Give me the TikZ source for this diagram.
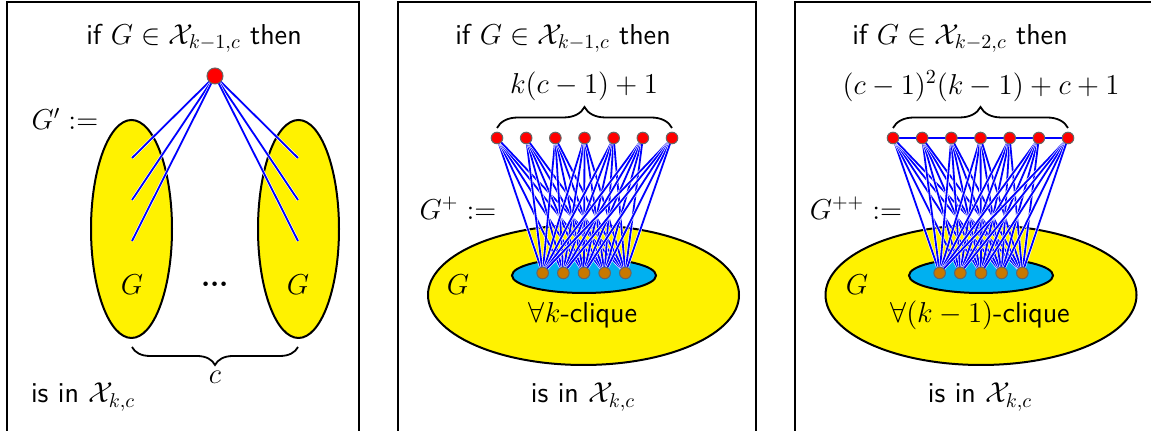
\documentclass[tikz,border=0pt]{standalone}
\usepackage{amsmath,bm}
\usepackage{tikz}
\usetikzlibrary{decorations.pathreplacing, positioning}
\definecolor{GraphYellow}{RGB}{255, 242, 0}
\definecolor{CliqueCyan}{RGB}{0, 176, 240}
\definecolor{CliqueBrown}{RGB}{200, 120, 0}
\definecolor{LinkBlue}{RGB}{0, 0, 255}
\pgfdeclarelayer{bg}
\pgfdeclarelayer{links}
\pgfsetlayers{bg,links,main}
\tikzset{
  frame/.style={draw=black, line width=0.6pt},
  graphblob/.style={draw=black, line width=1pt, fill=GraphYellow},
  cliqueblob/.style={draw=black, line width=1pt, fill=CliqueCyan},
  redvertex/.style={circle, draw=black!60, line width=0.5pt, fill=red, minimum size=5.8pt, inner sep=0pt},
  apexvertex/.style={redvertex, minimum size=8pt},
  brownvertex/.style={circle, draw=black!60, line width=0.5pt, fill=CliqueBrown, minimum size=5.8pt, inner sep=0pt},
  bluelink/.style={draw=LinkBlue, line width=0.9pt, preaction={draw=white, line width=1.5pt}},
  countbrace/.style={decorate, draw=black, line width=0.9pt},
}

\begin{document}
\begin{tikzpicture}[x=0.5pt, y=0.5pt, font=\sffamily\Large]
    \clip (0,0) rectangle (1151,431);

    % panel frames
    \draw[frame] (7,-10) rectangle (359,429);
    \draw[frame] (398,-10) rectangle (756,429);
    \draw[frame] (795,-10) rectangle (1170,429);

    % ---- panel 1: G'
    \node (t1) at (194,393) {if $G \in \mathcal{X}_{k-1,c}$ then};
    \node (n1) at (65,312) {$G' :=$};
    \begin{pgfonlayer}{bg}
      \draw[graphblob] (131.5,202) ellipse [x radius=40.5, y radius=109];
      \draw[graphblob] (298.5,202) ellipse [x radius=40.5, y radius=109];
    \end{pgfonlayer}
    \node[apexvertex] (apex) at (215,355) {};
    \foreach \y [count=\k] in {273,231,190} {
      \coordinate (l\k) at (132,\y);
      \coordinate (r\k) at (298,\y);
      \begin{pgfonlayer}{links}
        \draw[bluelink] (apex.center) -- (l\k);
        \draw[bluelink] (apex.center) -- (r\k);
      \end{pgfonlayer}
    }
    \node (gl) at (132,146) {$G$};
    \node (gr) at (298,146) {$G$};
    \node (dots) at (215,146) {$\bm{{\cdot}{\cdot}{\cdot}}$};
    \draw[countbrace, decoration={brace, amplitude=9pt}] (298,84) -- (132,84);
    \node (c1) at (215,54) {$c$};
    \node[anchor=west] (s1) at (24,34) {is in $\mathcal{X}_{k,c}$};

    % ---- panel 2: G^+
    \node (t2) at (563,393) {if $G \in \mathcal{X}_{k-1,c}$ then};
    \node (f2) at (584,345) {$k(c-1)+1$};
    \draw[countbrace, decoration={brace, amplitude=10.5pt}] (497,303) -- (672,303);
    \begin{pgfonlayer}{bg}
      \draw[graphblob] (583.5,136) ellipse [x radius=155.5, y radius=70];
      \draw[cliqueblob] (584,155.5) ellipse [x radius=72, y radius=17.5];
    \end{pgfonlayer}
    \foreach \i in {1,...,7}
      \node[redvertex] (pt\i) at ({497+29.17*(\i-1)},293) {};
    \foreach \j in {1,...,5}
      \node[brownvertex] (pb\j) at ({584+20.67*(\j-3)},158) {};
    \begin{pgfonlayer}{links}
      \foreach \i in {1,...,7}
        \foreach \j in {1,...,5}
          \draw[bluelink] (pt\i.center) -- (pb\j.center);
    \end{pgfonlayer}
    \node (n2) at (458,223) {$G^{+} :=$};
    \node (g2) at (458,146) {$G$};
    \node (k2) at (583,116) {$\forall k$-clique};
    \node (s2) at (583,34) {is in $\mathcal{X}_{k,c}$};

    % ---- panel 3: G^{++}
    \node (t3) at (960,393) {if $G \in \mathcal{X}_{k-2,c}$ then};
    \node (f3) at (981,345) {$(c-1)^2(k-1)+c+1$};
    \draw[countbrace, decoration={brace, amplitude=10.5pt}] (893,303) -- (1068,303);
    \begin{pgfonlayer}{bg}
      \draw[graphblob] (981,136) ellipse [x radius=155.5, y radius=70];
      \draw[cliqueblob] (981,155.5) ellipse [x radius=72, y radius=17.5];
    \end{pgfonlayer}
    \foreach \i in {1,...,7}
      \node[redvertex] (qt\i) at ({893+29.17*(\i-1)},293) {};
    \foreach \j in {1,...,5}
      \node[brownvertex] (qb\j) at ({981+20.67*(\j-3)},158) {};
    \begin{pgfonlayer}{links}
      \draw[bluelink] (qt1.center) -- (qt7.center);
      \foreach \i in {1,...,7}
        \foreach \j in {1,...,5}
          \draw[bluelink] (qt\i.center) -- (qb\j.center);
    \end{pgfonlayer}
    \node (n3) at (856,223) {$G^{++} :=$};
    \node (g3) at (857,146) {$G$};
    \node (k3) at (980,116) {$\forall(k-1)$-clique};
    \node (s3) at (980,34) {is in $\mathcal{X}_{k,c}$};
\end{tikzpicture}
\end{document}
